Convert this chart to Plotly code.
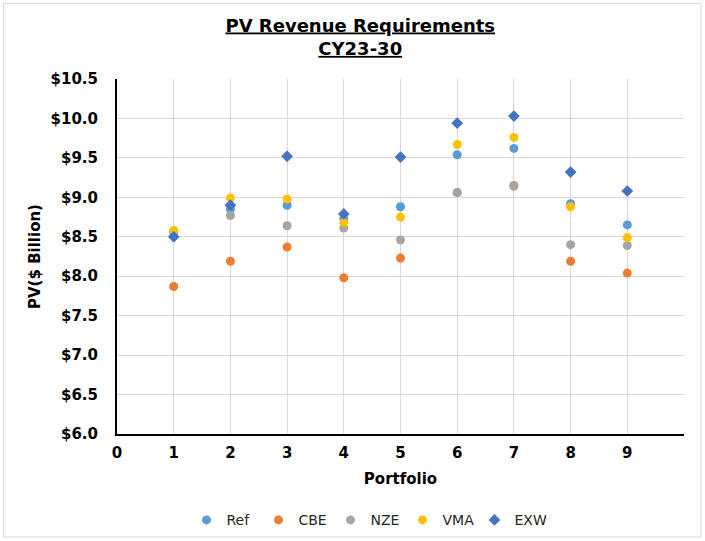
import plotly.graph_objects as go

portfolios = [1, 2, 3, 4, 5, 6, 7, 8, 9]
ref = [8.56, 8.85, 8.90, 8.73, 8.88, 9.54, 9.62, 8.92, 8.65]
cbe = [7.87, 8.19, 8.37, 7.98, 8.23, 9.06, 9.15, 8.19, 8.04]
nze = [8.55, 8.77, 8.64, 8.61, 8.46, 9.06, 9.14, 8.40, 8.39]
vma = [8.58, 8.99, 8.98, 8.68, 8.75, 9.67, 9.76, 8.88, 8.49]
exw = [8.50, 8.90, 9.52, 8.79, 9.51, 9.94, 10.03, 9.32, 9.08]

y_ticks = [6.0, 6.5, 7.0, 7.5, 8.0, 8.5, 9.0, 9.5, 10.0, 10.5]
y_tick_labels = ["$6.0", "$6.5", "$7.0", "$7.5", "$8.0", "$8.5", "$9.0", "$9.5", "$10.0", "$10.5"]
x_ticks = [0, 1, 2, 3, 4, 5, 6, 7, 8, 9, 10]
x_tick_labels = ["0", "1", "2", "3", "4", "5", "6", "7", "8", "9", ""]

series = [
    ("Ref", ref, "#5B9BD5", "circle", 9),
    ("CBE", cbe, "#ED7D31", "circle", 9),
    ("NZE", nze, "#A5A5A5", "circle", 9),
    ("VMA", vma, "#FFC000", "circle", 9),
    ("EXW", exw, "#4472C4", "diamond", 9),
]

fig = go.Figure()
for name, vals, color, sym, size in series:
    fig.add_trace(go.Scatter(
        x=portfolios, y=vals, name=name, mode="markers",
        marker=dict(color=color, symbol=sym, size=size, line=dict(width=0)),
    ))

font_family = "DejaVu Sans"
fig.update_layout(
    width=705, height=541,
    margin=dict(l=117, r=21, t=79, b=107, autoexpand=False),
    paper_bgcolor="white", plot_bgcolor="white",
    font=dict(family=font_family, color="#000000"),
    title=dict(
        text="<b>PV Revenue Requirements<br>CY23-30</b>",
        x=0.511, xanchor="center", y=1 - 31.5 / 541, yanchor="middle",
        font=dict(size=18, family=font_family, color="#000000", lineposition="under"),
    ),
    xaxis=dict(
        range=[0, 10], tickmode="array", tickvals=x_ticks, ticktext=x_tick_labels,
        showgrid=True, gridcolor="#D9D9D9", gridwidth=1,
        showline=True, linecolor="#000000", linewidth=2,
        zeroline=False, ticks="", ticklabelstandoff=4,
        tickfont=dict(size=15, family=font_family, color="#000000", weight="bold"),
        title=dict(text="<b>Portfolio</b>", font=dict(size=15, family=font_family), standoff=12),
    ),
    yaxis=dict(
        range=[6.0, 10.5], tickmode="array", tickvals=y_ticks, ticktext=y_tick_labels,
        showgrid=True, gridcolor="#D9D9D9", gridwidth=1,
        showline=True, linecolor="#000000", linewidth=2,
        zeroline=False, ticks="", ticklabelstandoff=14,
        tickfont=dict(size=15, family=font_family, color="#000000", weight="bold"),
        title=dict(text="<b>PV($ Billion)</b>", font=dict(size=15, family=font_family), standoff=6),
    ),
    legend=dict(
        orientation="h", x=0.44, xanchor="center", y=-0.198, yanchor="top",
        font=dict(size=14, family=font_family, color="#262626"),
        itemwidth=30, tracegroupgap=0, entrywidth=27, entrywidthmode="pixels",
    ),
    shapes=[dict(
        type="rect", xref="paper", yref="paper",
        x0=-0.2, x1=1.03, y0=-0.29, y1=1.213,
        line=dict(color="#D9D9D9", width=1),
    )],
)

fig.write_html("out.html", config={"displayModeBar": False},
               post_script="document.body.style.margin='0px';")
